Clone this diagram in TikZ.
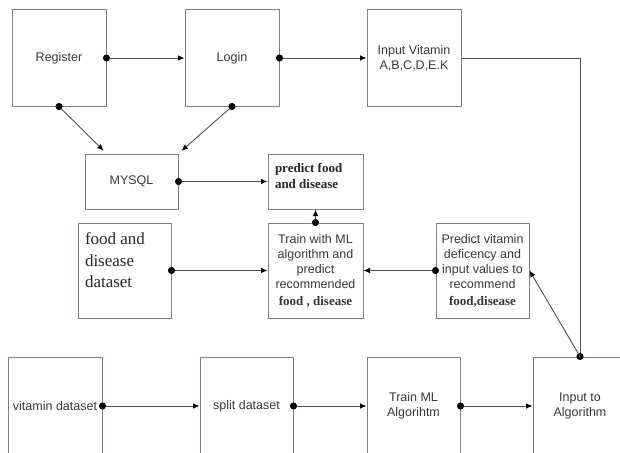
\documentclass[tikz,border=0pt]{standalone}
\usepackage{fontspec}
\setmainfont{Liberation Sans}
\newfontfamily\tmsfont{Liberation Serif}
\usepackage{tikz}
\usetikzlibrary{arrows.meta,positioning}

\definecolor{boxline}{RGB}{125,125,150}
\definecolor{wire}{RGB}{80,80,80}
\definecolor{inkgray}{RGB}{55,55,55}

\begin{document}
\begin{tikzpicture}[x=1pt, y=-1pt,
  blk/.style={draw=boxline, line width=1pt, minimum width=94pt, minimum height=96pt,
    inner sep=0pt, align=center, text=inkgray, font=\fontsize{12.5}{15}\selectfont},
  link/.style={draw=wire, line width=0.9pt, shorten <=-3.5pt,
    {Circle[length=7pt,fill=black,color=black]}-{Latex[length=6.5pt,width=5.5pt,color=black]}},
  plain/.style={draw=wire, line width=0.9pt, -{Latex[length=6.5pt,width=5.5pt,color=black]}},
  bold serif/.style={font=\tmsfont\bfseries\fontsize{13}{16.5}\selectfont, text=black!85}]
  \useasboundingbox (0,0) rectangle (620,452);
  \clip (0,0) rectangle (620,452);

  % top row
  \node[blk] (reg) at (59,58) {Register};
  \node[blk] (login) at (232,58) {Login};
  \node[blk] (ivit) at (414,58) {Input Vitamin\\A,B,C,D,E.K};

  % middle
  \node[blk, minimum width=93pt, minimum height=55pt] (mysql) at (131.5,181.5) {MYSQL};
  \node[blk, minimum width=95pt, minimum height=55pt, bold serif] (pfood) at (315.5,181.5)
    {\parbox[c][37pt][t]{81pt}{predict food\\and disease}};
  \node[blk, minimum width=93pt, minimum height=95pt, text=black!85,
    font=\tmsfont\fontsize{17}{21.5}\selectfont] (fdd) at (124.5,270.5)
    {\parbox[c][75pt][t]{79pt}{food and\\disease\\dataset}};
  \node[blk, minimum width=95pt, minimum height=95pt] (train) at (315.5,270.5)
    {Train with ML\\algorithm and\\predict\\recommended\\[2pt]{\tmsfont\bfseries\fontsize{13}{15}\selectfont food , disease}};
  \node[blk, minimum width=93pt, minimum height=95pt] (pvit) at (482.5,270.5)
    {Predict vitamin\\deficency and\\input values to\\recommend\\[2pt]{\tmsfont\bfseries\fontsize{13}{15}\selectfont food,disease}};

  % bottom row
  \node[blk, minimum height=98pt] (vds) at (55,406) {vitamin dataset};
  \node[blk, minimum width=93pt, minimum height=98pt] (split) at (246.5,406) {split dataset};
  \node[blk, minimum width=93pt, minimum height=98pt] (tml) at (413.5,406) {Train ML\\Algorihtm};
  \node[blk, minimum height=98pt] (alg) at (580,406) {Input to\\Algorithm};

  % connectors
  \draw[link] (reg.east) -- (login.west);
  \draw[link] (login.east) -- (ivit.west);
  \draw[link, shorten >=4pt] (reg.south) -- ([xshift=-25pt]mysql.north);
  \draw[link, shorten >=4pt] (login.south) -- (mysql.north east);
  \draw[link] (mysql.east) -- (pfood.west);
  \draw[link] (fdd.east) -- (train.west);
  \draw[link] (train.north) -- (pfood.south);
  \draw[link] (pvit.west) -- (train.east);
  \draw[draw=wire, line width=0.9pt, shorten >=-3.5pt, -{Circle[length=7pt,color=black]}]
    (ivit.east) -| (alg.north);
  \draw[plain] (alg.north) -- (pvit.east);
  \draw[link] (vds.east) -- (split.west);
  \draw[link] (split.east) -- (tml.west);
  \draw[link] (tml.east) -- (alg.west);
\end{tikzpicture}
\end{document}
